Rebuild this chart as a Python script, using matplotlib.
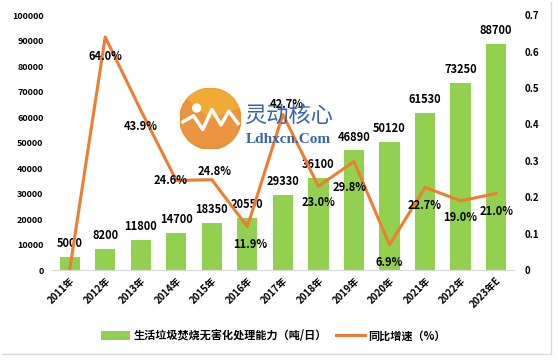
import numpy as np
import matplotlib
matplotlib.use("Agg")
import matplotlib.pyplot as plt
from matplotlib.patches import Circle, Wedge
from matplotlib.lines import Line2D

plt.rcParams["font.family"] = ["Noto Sans CJK SC", "DejaVu Sans"]

years = ["2011年", "2012年", "2013年", "2014年", "2015年", "2016年", "2017年",
         "2018年", "2019年", "2020年", "2021年", "2022年", "2023年E"]
capacity = [5000, 8200, 11800, 14700, 18350, 20550, 29330,
            36100, 46890, 50120, 61530, 73250, 88700]
growth = [0.0, 0.640, 0.439, 0.246, 0.248, 0.119, 0.427,
          0.230, 0.298, 0.069, 0.227, 0.190, 0.210]

bar_label = "生活垃圾焚烧无害化处理能力（吨/日）"
line_label = "同比增速（%）"

green = "#92D050"
orange = "#ED7D31"

# label offsets (points) for the growth labels, 2011 has no label
pct_offsets = [None, (0, -14), (0, -12), (-4, 0), (2, 6), (2, -13), (3, 7),
               (0, -12), (-3, -19), (0, -13), (0, -13), (0, -12), (0, -13)]

fig = plt.figure(figsize=(5.58, 3.6), dpi=100)
ax = fig.add_axes([0.093, 0.25, 0.828, 0.708])
x = np.arange(len(years))

ax.bar(x, capacity, width=0.57, color=green, label=bar_label, zorder=2)
for xi, v in zip(x, capacity):
    ax.annotate(f"{v}", (xi, v), xytext=(0, 5), textcoords="offset points",
                ha="center", va="bottom", fontsize=8, fontweight="bold")

ax.set_xlim(-0.5, len(years) - 0.5)
ax.set_ylim(0, 100000)
ax.set_yticks(np.arange(0, 100001, 10000))
ax.set_xticks(x)
ax.set_xticklabels(years, rotation=45, ha="right", rotation_mode="anchor",
                   fontsize=7, fontweight="bold")
ax.tick_params(axis="y", length=0, labelsize=6.5, pad=6)
ax.tick_params(axis="x", length=0, pad=4)
for lab in ax.get_yticklabels():
    lab.set_fontweight("bold")
for s in ["top", "left", "right"]:
    ax.spines[s].set_visible(False)
ax.spines["bottom"].set_color("#D9D9D9")

ax2 = ax.twinx()
ax2.plot(x, growth, color=orange, lw=2.2, label=line_label, zorder=3)
ax2.set_ylim(0, 0.7)
ax2.set_yticks(np.arange(0, 0.71, 0.1))
ax2.set_yticklabels(["0"] + [f"{t:.1f}" for t in np.arange(0.1, 0.71, 0.1)])
ax2.tick_params(axis="y", length=0, labelsize=7, pad=8)
for lab in ax2.get_yticklabels():
    lab.set_fontweight("bold")
for s in ax2.spines.values():
    s.set_visible(False)
for xi, g, off in zip(x, growth, pct_offsets):
    if off is None:
        continue
    ax2.annotate(f"{g * 100:.1f}%", (xi, g), xytext=off, textcoords="offset points",
                 ha="center", va="center", fontsize=8, fontweight="bold", zorder=5)

# watermark logo
logo = fig.add_axes([0.322, 0.585, 0.11, 0.17])
logo.set_xlim(-1, 1)
logo.set_ylim(-1, 1)
logo.set_aspect("equal")
logo.axis("off")
logo.add_patch(Circle((0, 0), 1, color="#E8892A", alpha=0.9))
logo.add_patch(Wedge((0, 0), 1, 20, 140, color="#F2B233", alpha=0.8, lw=0))
logo.plot([-0.9, -0.55, -0.25, 0.05, 0.35, 0.6, 0.9],
          [-0.1, 0.1, -0.35, 0.3, -0.2, 0.25, -0.15], color="white", lw=2.5)
logo.add_patch(Circle((-0.45, 0.35), 0.13, color="white"))
fig.text(0.437, 0.68, "灵动核心", color="#2E5AAC", fontsize=16, va="center",
         alpha=0.95)
fig.text(0.441, 0.613, "Ldhxcn.Com", color="#2E5AAC", fontsize=11, va="center",
         family="Liberation Serif", fontweight="bold", alpha=0.95)

# legend
h1, l1 = ax.get_legend_handles_labels()
h2, l2 = ax2.get_legend_handles_labels()
fig.legend(h1 + h2, l1 + l2, loc="center", bbox_to_anchor=(0.49, 0.067), ncol=2,
           frameon=False, prop={"size": 8, "weight": "bold"},
           handlelength=2.6, handleheight=0.8, columnspacing=0.8, handletextpad=0.3)

# outer frame
fig.add_artist(Line2D([0.004, 0.987], [0.017, 0.017], color="#D9D9D9", lw=1))
fig.add_artist(Line2D([0.987, 0.987], [0.017, 0.995], color="#D9D9D9", lw=1))

fig.savefig("out.png", dpi=100)
